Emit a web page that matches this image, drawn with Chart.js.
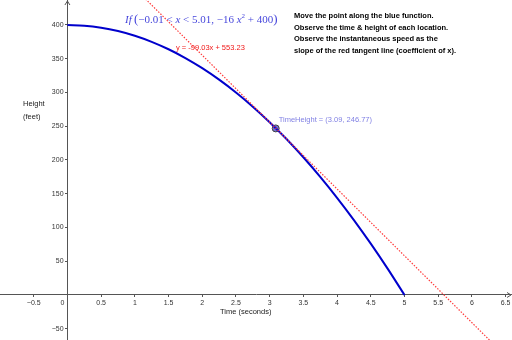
<!DOCTYPE html>
<html>
<head>
<meta charset="utf-8">
<script src="https://cdn.jsdelivr.net/npm/chart.js@4.4.1/dist/chart.umd.min.js"></script>
<style>
  html, body { margin: 0; padding: 0; background: #fff; }
  canvas { display: block; }
</style>
</head>
<body>
<canvas id="chart" width="512" height="340"></canvas>
<script>
// time (s) and height (ft)
const timeSec = [0, 0.25, 0.5, 0.75, 1, 1.25, 1.5, 1.75, 2, 2.25, 2.5, 2.75, 3, 3.25, 3.5, 3.75, 4, 4.25, 4.5, 4.75, 5];
const heightFt = [400, 399, 396, 391, 384, 375, 364, 351, 336, 319, 300, 279, 256, 231, 204, 175, 144, 111, 76, 39, 0];

// red tangent line end points
const tangentTime = [1, 6.5];
const tangentHeight = [454.2, -90.5];

// the movable point
const pointTime = [3.09];
const pointHeight = [246.77];

const xTicks = [-0.5, 0, 0.5, 1, 1.5, 2, 2.5, 3, 3.5, 4, 4.5, 5, 5.5, 6, 6.5];
const yTicks = [-50, 50, 100, 150, 200, 250, 300, 350, 400];

const toXY = (xs, ys) => xs.map((x, i) => ({ x: x, y: ys[i] }));
const fmt = v => v < 0 ? '\u2212' + Math.abs(v) : String(v);

const textPlugin = {
  id: 'texts',
  afterDraw(chart) {
    const ctx = chart.ctx;
    const xs = chart.scales.x, ys = chart.scales.y;
    const ox = xs.getPixelForValue(0), oy = ys.getPixelForValue(0);
    ctx.save();

    // axis arrows
    ctx.strokeStyle = '#555';
    ctx.lineWidth = 1;
    ctx.beginPath();
    ctx.moveTo(ox - 2.5, 5); ctx.lineTo(ox, 1); ctx.lineTo(ox + 2.5, 5);
    ctx.moveTo(chart.width - 5, oy - 2.5); ctx.lineTo(chart.width - 1, oy); ctx.lineTo(chart.width - 5, oy + 2.5);
    ctx.stroke();

    // axis titles
    ctx.fillStyle = '#222';
    ctx.font = '7.5px "Liberation Sans"';
    ctx.textBaseline = 'middle';
    ctx.textAlign = 'left';
    ctx.fillText('Height', 23, 104);
    ctx.fillText('(feet)', 23, 117);
    ctx.fillText('Time (seconds)', 220, 312);

    // instructions
    ctx.fillStyle = '#000';
    ctx.font = 'bold 7.5px "Liberation Sans"';
    const lines = [
      'Move the point along the blue function.',
      'Observe the time & height of each location.',
      'Observe the instantaneous speed as the',
      'slope of the red tangent line (coefficient of x).'
    ];
    lines.forEach((l, i) => ctx.fillText(l, 294, 16 + i * 11.5));

    // tangent equation
    ctx.fillStyle = '#f01818';
    ctx.font = '7.5px "Liberation Sans"';
    ctx.fillText('y = -99.03x + 553.23', 176, 47.5);

    // point label
    const px = xs.getPixelForValue(pointTime[0]), py = ys.getPixelForValue(pointHeight[0]);
    ctx.fillStyle = '#8282e4';
    ctx.fillText('TimeHeight = (3.09, 246.77)', px + 3, py - 8.5);

    // formula
    const segs = [
      ['If', 'italic 11px "Liberation Serif"', 0],
      ['\u2009', '11px "Liberation Serif"', 0],
      ['(', '13px "Liberation Serif"', 0],
      ['\u22120.01 < ', '11px "Liberation Serif"', 0],
      ['x', 'italic 11px "Liberation Serif"', 0],
      [' < 5.01, \u221216 ', '11px "Liberation Serif"', 0],
      ['x', 'italic 11px "Liberation Serif"', 0],
      ['2', '7px "Liberation Serif"', -4],
      [' + 400', '11px "Liberation Serif"', 0],
      [')', '13px "Liberation Serif"', 0]
    ];
    ctx.fillStyle = '#4848dc';
    let fx = 125;
    segs.forEach(([t, f, dy]) => {
      ctx.font = f;
      ctx.fillText(t, fx, 20 + dy);
      fx += ctx.measureText(t).width;
    });

    ctx.restore();
  }
};

new Chart(document.getElementById('chart'), {
  type: 'line',
  data: {
    datasets: [
      {
        data: toXY(tangentTime, tangentHeight),
        borderColor: '#ff3c3c',
        borderWidth: 1.2,
        borderDash: [1.5, 1.5],
        pointRadius: 0,
        tension: 0
      },
      {
        data: toXY(timeSec, heightFt),
        borderColor: '#0000cc',
        borderWidth: 2,
        pointRadius: 0,
        cubicInterpolationMode: 'monotone'
      },
      {
        data: toXY(pointTime, pointHeight),
        showLine: false,
        pointRadius: 3.5,
        pointBackgroundColor: '#7474cc',
        pointBorderColor: '#444',
        pointBorderWidth: 1
      }
    ]
  },
  options: {
    responsive: false,
    animation: false,
    devicePixelRatio: 1,
    layout: { padding: 0, autoPadding: false },
    plugins: { legend: { display: false }, tooltip: { enabled: false } },
    scales: {
      x: {
        type: 'linear',
        min: -1.0,
        max: 6.595,
        position: { y: 0 },
        afterBuildTicks: s => { s.ticks = xTicks.map(v => ({ value: v })); },
        afterFit: s => { s.paddingLeft = 0; s.paddingRight = 0; s.paddingTop = 0; s.paddingBottom = 0; },
        grid: { drawOnChartArea: false, tickLength: 2, color: '#555' },
        border: { color: '#555' },
        ticks: {
          color: '#333', padding: 2, maxRotation: 0, autoSkip: false,
          font: { size: 7, family: 'Liberation Sans' },
          callback: v => v === 0 ? '0     ' : fmt(v)
        }
      },
      y: {
        type: 'linear',
        min: -66.7,
        max: 437,
        position: { x: 0 },
        afterBuildTicks: s => { s.ticks = yTicks.map(v => ({ value: v })); },
        afterFit: s => { s.paddingLeft = 0; s.paddingRight = 0; s.paddingTop = 0; s.paddingBottom = 0; },
        grid: { drawOnChartArea: false, tickLength: 2, color: '#555' },
        border: { color: '#555' },
        ticks: {
          color: '#333', padding: 2, autoSkip: false,
          font: { size: 7, family: 'Liberation Sans' },
          callback: v => fmt(v) + '  '
        }
      }
    }
  },
  plugins: [textPlugin]
});
</script>
</body>
</html>
